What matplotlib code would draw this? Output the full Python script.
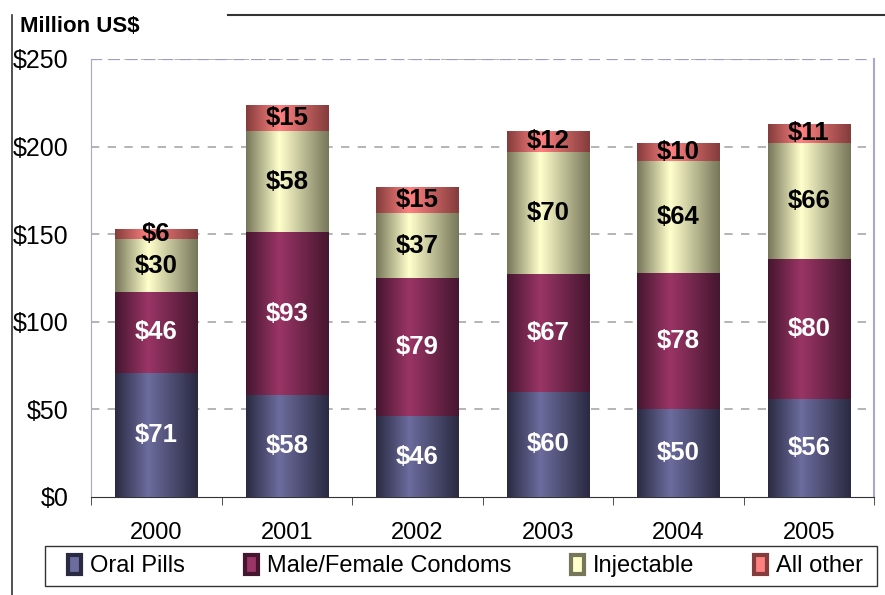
import matplotlib

matplotlib.use("Agg")
import matplotlib.pyplot as plt
import numpy as np
from matplotlib.colors import LinearSegmentedColormap
from matplotlib.lines import Line2D
from matplotlib.patches import Rectangle

plt.rcParams["font.family"] = ["Liberation Sans", "DejaVu Sans"]

years = ["2000", "2001", "2002", "2003", "2004", "2005"]
oral_pills = [71, 58, 46, 60, 50, 56]
condoms = [46, 93, 79, 67, 78, 80]
injectable = [30, 58, 37, 70, 64, 66]
all_other = [6, 15, 15, 12, 10, 11]

series = [
    ("Oral Pills", oral_pills, "#2a2a42", "#6c6c9e", "white"),
    ("Male/Female Condoms", condoms, "#45162f", "#9a3566", "white"),
    ("Injectable", injectable, "#76765a", "#ffffcc", "black"),
    ("All other", all_other, "#843c3c", "#ff8080", "black"),
]

fig = plt.figure(figsize=(8.85, 5.95), dpi=100)
ax = fig.add_axes([91 / 885, 98 / 595, 783 / 885, 438 / 595])

x = np.arange(len(years))
bottom = np.zeros(len(years))
# horizontal shading across each bar: dark edges, light a bit left of centre
ramp = np.interp(np.linspace(0, 1, 200), [0, 0.4, 1], [0, 1, 0]).reshape(1, -1)

for name, vals, dark, light, txt in series:
    bars = ax.bar(x, vals, 0.63, bottom=bottom, color=light, zorder=2)
    cmap = LinearSegmentedColormap.from_list(name, [dark, light])
    for b, v in zip(bars, vals):
        x0, y0, w, h = b.get_x(), b.get_y(), b.get_width(), b.get_height()
        im = ax.imshow(ramp, cmap=cmap, aspect="auto", zorder=3,
                       extent=(x0, x0 + w, y0, y0 + h), interpolation="bilinear")
        im.set_clip_path(b)
        ax.text(x0 + w / 2, y0 + h / 2, f"${v}", ha="center", va="center",
                fontsize=18.5, fontweight="bold", color=txt, zorder=5)
    bottom += np.array(vals)

ax.set_xlim(-0.5, len(years) - 0.5)
ax.set_ylim(0, 250)
ax.set_yticks(range(0, 251, 50))
ax.set_yticklabels([f"${v}" for v in range(0, 251, 50)], fontsize=18)
ax.set_xticks(x)
ax.set_xticklabels(years, fontsize=17)
ax.tick_params(axis="y", length=0, pad=16)
ax.tick_params(axis="x", length=0, pad=18)
ax.set_xticks(np.arange(-0.5, len(years), 1), minor=True)
ax.tick_params(axis="x", which="minor", length=6, direction="out", color="#333333")

for v in range(50, 251, 50):
    ax.axhline(v, color="#a8a8a8", lw=1.2, ls=(0, (5, 5)), zorder=1)
ax.axhline(250, color="#9c9cc8", lw=1.6, ls=(0, (5, 3)), zorder=1)

ax.spines["top"].set_visible(False)
ax.spines["left"].set_color("#a6a6d0")
ax.spines["right"].set_color("#a6a6d0")
ax.spines["right"].set_linewidth(1.5)
ax.spines["bottom"].set_color("#333333")

fig.text(20 / 885, 1 - 27 / 595, "Million US$", fontsize=16, fontweight="bold",
         ha="left", va="center")

# slide frame lines
fig.add_artist(Line2D([12 / 885, 12 / 885], [0, 1 - 15 / 595], color="#333333", lw=1.2))
fig.add_artist(Line2D([228 / 885, 1], [1 - 15 / 595, 1 - 15 / 595], color="#333333", lw=1.5))

# legend frame drawn separately so the entries can sit with wider side margins
fig.add_artist(Rectangle((45 / 885, 1 - 586 / 595), 832 / 885, 40 / 595,
                         transform=fig.transFigure, facecolor="white",
                         edgecolor="#333333", lw=1.0, zorder=1))
handles = [Rectangle((0, 0), 1, 1, facecolor=light, edgecolor=dark, lw=3)
           for _, _, dark, light, _ in series]
leg = fig.legend(handles, [s[0] for s in series], loc="center left",
                 bbox_to_anchor=(68 / 885, 1 - 583 / 595, 795 / 885, 34 / 595),
                 mode="expand", ncol=4, fontsize=17, frameon=False,
                 handlelength=0.55, handleheight=0.9, handletextpad=0.4,
                 columnspacing=1.2, borderpad=0.0, borderaxespad=0)
leg.set_zorder(2)

fig.savefig("out.png", dpi=100, facecolor="white")
